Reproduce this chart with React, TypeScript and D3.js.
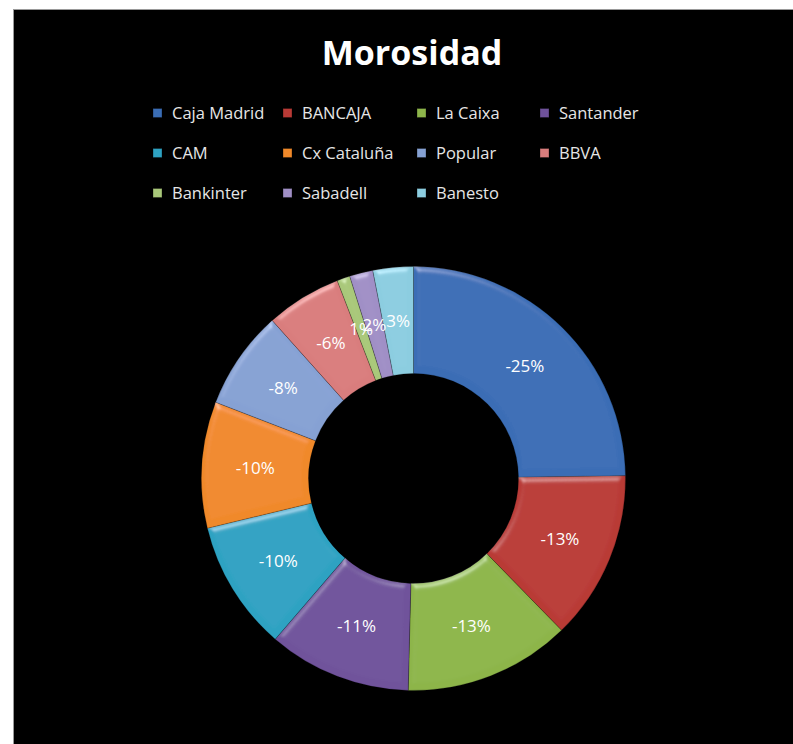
import React from "react";
import * as d3 from "d3";

// entidades y variación de morosidad
const categories = [
  "Caja Madrid",
  "BANCAJA",
  "La Caixa",
  "Santander",
  "CAM",
  "Cx Cataluña",
  "Popular",
  "BBVA",
  "Bankinter",
  "Sabadell",
  "Banesto",
];
const values = [-25.0, -13.0, -12.8, -11.0, -10.0, -9.7, -7.6, -5.8, 1.0, 1.8, 3.1];
const colors = [
  "#3a6db5",
  "#b93a36",
  "#8db54a",
  "#6f529b",
  "#2ea2c2",
  "#f0892a",
  "#86a1d3",
  "#d97d7d",
  "#a9c87a",
  "#a08fc6",
  "#8ccde0",
];

export default function App() {
  const width = 793;
  const height = 744;
  const cx = 413.5;
  const cy = 478.5;
  const outerR = 212;
  const innerR = 105;

  const total = d3.sum(values, (v) => Math.abs(v));
  const pie = d3
    .pie<number>()
    .sort(null)
    .value((v) => Math.abs(v));
  const arcs = pie(values);
  const arc = d3.arc<d3.PieArcDatum<number>>().innerRadius(innerR).outerRadius(outerR);
  const pct = (v: number) => `${Math.round((v / total) * 100)}%`;

  const legendX = [153, 283, 417, 540];
  const legendY = [113, 153, 193];
  const font = "'Open Sans', Lato, sans-serif";

  return (
    <svg
      width={width}
      height={height}
      style={{ position: "absolute", left: 0, top: 0, background: "#fff" }}
    >
      <defs>
        <filter id="bevel" x="-10%" y="-10%" width="120%" height="120%">
          <feGaussianBlur in="SourceAlpha" stdDeviation="3" result="blur" />
          <feSpecularLighting
            in="blur"
            surfaceScale="3"
            specularConstant="0.5"
            specularExponent="35"
            lightingColor="#ffffff"
            result="spec"
          >
            <feDistantLight azimuth="250" elevation="40" />
          </feSpecularLighting>
          <feComposite in="spec" in2="SourceAlpha" operator="in" result="specIn" />
          <feComposite
            in="SourceGraphic"
            in2="specIn"
            operator="arithmetic"
            k1="0"
            k2="1"
            k3="0.5"
            k4="0"
          />
        </filter>
      </defs>
      <rect x={13.5} y={9.5} width={width + 20} height={height + 20} fill="#000" stroke="#999" strokeWidth={1} />

      <text
        x={412}
        y={65}
        textAnchor="middle"
        fill="#fff"
        fontFamily={font}
        fontWeight="bold"
        fontSize={34}
      >
        Morosidad
      </text>

      {categories.map((c, i) => (
        <g key={c} transform={`translate(${legendX[i % 4]},${legendY[Math.floor(i / 4)]})`}>
          <rect x={0} y={-4.5} width={9} height={9} fill={colors[i]} stroke="#000" strokeOpacity={0.3} />
          <text x={19} y={0} dy="0.35em" fill="#e6e6e6" fontFamily={font} fontSize={16.5}>
            {c}
          </text>
        </g>
      ))}

      <g transform={`translate(${cx},${cy})`}>
        {arcs.map((a, i) => (
          <path
            key={categories[i]}
            d={arc(a) || ""}
            fill={colors[i]}
            stroke="#000"
            strokeOpacity={0.35}
            strokeWidth={0.6}
            filter="url(#bevel)"
          />
        ))}
        {arcs.map((a, i) => {
          const [x, y] = arc.centroid(a);
          return (
            <text
              key={`l-${categories[i]}`}
              x={x}
              y={y}
              dy="0.35em"
              textAnchor="middle"
              fill="#fff"
              fontFamily={font}
              fontSize={17}
            >
              {pct(values[i])}
            </text>
          );
        })}
      </g>
    </svg>
  );
}
